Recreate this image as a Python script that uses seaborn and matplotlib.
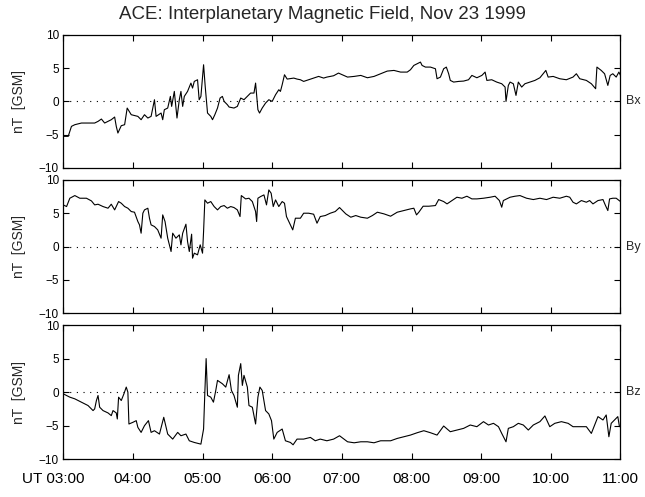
import matplotlib
matplotlib.use("Agg")
import matplotlib.pyplot as plt
from matplotlib.transforms import ScaledTranslation
import seaborn as sns
import pandas as pd

# --- data (minutes after 03:00 UT, nT) ---
bx_min = [0, 4.3, 7.1, 10, 15.7, 27.1, 30, 32.9, 35.7, 41.4, 44.3, 45.7, 47.1, 50, 52.9, 55.1,
          58.6, 64.3, 67.1, 70, 72.9, 75.7, 78.6, 80, 84.3, 85.7, 87.1, 90, 92.3, 93.4, 95.7, 98,
          100, 101.4, 102.9, 104.3, 107.1, 110, 111.4, 112.9, 115.7, 117.1, 118.6, 120.9, 122.3,
          124.3, 127.1, 128.6, 130.6, 132.9, 135.1, 137.1, 138.6, 141.4, 142.9, 147.1, 150, 152.9,
          155.7, 158.6, 161.4, 164.3, 165.7, 167.7, 169.1, 171.4, 174.3, 177.1, 180, 182.9, 185.7,
          187.1, 188.6, 190.6, 192.9, 198.6, 201.4, 204.3, 207.1, 211.4, 215.7, 220, 224.3, 227.1,
          232.9, 237.1,
          244.9, 250.6, 256.3, 262, 267.7, 273.4, 279.1, 284.9, 290.6, 296.3, 299.1, 302, 304.9,
          307.7, 309.1, 312, 316.3, 320.6, 322, 324.9, 327.7, 330, 332, 333.4, 336.3, 340.6, 344.9,
          349.1, 352, 356.3, 360.6, 363.4, 364.9, 369.1, 373.4, 377.7, 380.6, 381.4, 383.4, 384.9,
          387.7, 390, 392, 394.9, 397.7, 402, 406.3, 410.6, 413.4, 415.7, 417.7, 422, 427.7, 433.4,
          439.1, 442, 444.9, 450.6, 454.9, 458.6, 459.7, 463.4, 466.3, 469.1, 471.1, 473.4, 476.3,
          478.6, 480]
bx_val = [-5.25, -5.25, -3.75, -3.5, -3.25, -3.25, -3.0, -2.65, -3.25, -2.75, -2.35, -3.75, -4.75,
          -3.65, -3.5, -1.0, -2.0, -2.25, -2.75, -2.0, -2.5, -2.25, 0.25, -2.25, -1.75, -2.75, -1.25,
          -1.0, 0.75, -0.75, 1.5, -2.5, 0.25, 1.5, -0.75, 0.75, 1.5, 2.75, 2.0, 3.0, 3.25, 0.25, 0.75,
          5.5, 2.25, -1.75, -2.25, -2.75, -2.0, -1.0, 0.5, 0.75, 0.0, -0.5, -0.85, -1.0, -0.75, 0.5,
          0.25, 0.75, 1.25, 1.25, 2.75, -1.25, -1.75, -1.0, -0.25, 0.25, 0.0, 1.0, 1.75, 1.5, 2.5,
          4.0, 3.35, 3.5, 3.35, 3.25, 3.0, 3.25, 3.5, 3.75, 3.5, 3.65, 3.85, 4.25,
          3.65, 3.75, 3.9, 3.55, 3.75, 4.15, 4.55, 4.65, 4.4, 4.4, 4.75, 5.4, 5.65, 5.9, 5.4, 5.15,
          5.15, 4.9, 3.4, 3.65, 4.9, 5.15, 4.15, 3.15, 2.9, 3.0, 3.05, 3.25, 3.9, 3.55, 3.9, 4.4,
          3.15, 3.25, 2.9, 2.65, 2.15, 0.0, 2.4, 2.9, 2.65, 0.9, 2.9, 2.15, 2.65, 2.9, 3.15, 3.55,
          4.15, 4.65, 3.65, 3.75, 3.4, 3.25, 3.65, 4.15, 3.4, 3.15, 2.65, 1.9, 5.15, 4.65, 4.15,
          2.4, 3.9, 4.15, 3.65, 4.4, 3.9]

by_min = [0, 2.9, 5.7, 10, 14.3, 20, 24.3, 27.1, 30, 34.3, 38.6, 41.4, 44.3, 47.7, 50, 52.9, 55.7,
          58.6, 61.4, 64.3, 65.7, 67.1, 68.6, 70, 72.9, 74.3, 75.7, 78.6, 81.4, 84.3, 85.7, 87.7, 90,
          92.9, 94.3, 97.1, 100, 101.4, 102.9, 105.7, 107.1, 108.6, 110.6, 111.4, 112.9, 115.7, 118,
          120, 120.9, 122, 124.3, 127.1, 130, 132.9, 135.7, 138.6, 141.4, 144.3, 147.1, 150, 152.3,
          153.4, 157.1, 160, 162.9, 165.7, 166.6, 167.7, 170, 172.9, 175.1, 177.1, 179.1, 180.9,
          182.9, 185.7, 188.6, 190.6, 192.3, 195.7, 197.7, 200, 204.3, 207.1, 211.4, 215.7, 218.6,
          221.4, 225.7, 230, 234.3, 238,
          243.4, 247.7, 252, 256.3, 262, 266.3, 270.6, 276.3, 282, 287.7, 293.4, 299.1, 302, 304.3,
          306.3, 310, 314.9, 320.6, 323.4, 327.7, 330.6, 334.9, 339.1, 343.4, 347.7, 352, 356.3, 362,
          367.7, 372, 375.7, 377.7, 379.1, 382, 384.9, 389.1, 393.4, 399.1, 404.9, 410.6, 416.3, 422,
          427.7, 433.4, 436.3, 439.1, 442, 446.3, 450.6, 453.4, 456.3, 460.6, 464.9, 467.1, 469.1,
          470.6, 473.4, 476.3, 480]
by_val = [6.25, 6.0, 7.25, 7.65, 7.25, 7.25, 6.85, 6.25, 6.35, 6.0, 5.75, 6.35, 5.5, 6.75, 6.5, 6.0,
          5.75, 5.25, 5.15, 3.75, 3.25, 2.0, 5.0, 5.5, 5.75, 4.25, 3.25, 3.0, 2.5, 1.25, 4.75, 3.75,
          1.25, -0.75, 2.0, 1.25, 1.75, 0.25, 2.0, 3.35, 0.75, -0.75, 1.85, -1.75, -1.0, -1.25, 0.25,
          -1.0, 2.25, 7.0, 6.5, 6.75, 6.0, 5.5, 6.0, 6.15, 5.75, 6.0, 5.85, 5.5, 4.5, 7.65, 7.15, 7.25,
          6.75, 5.25, 3.75, 7.25, 7.5, 7.75, 6.25, 8.5, 8.0, 6.0, 7.0, 6.0, 6.75, 6.5, 4.5, 3.25, 2.5,
          4.25, 4.25, 5.0, 5.0, 4.85, 3.5, 4.5, 4.65, 5.0, 5.25, 5.85,
          4.9, 4.4, 4.65, 4.4, 4.25, 4.65, 5.15, 4.9, 4.55, 5.15, 5.4, 5.65, 5.75, 4.75, 5.15, 6.05,
          6.05, 6.15, 7.05, 6.75, 6.4, 6.9, 7.4, 7.25, 7.55, 7.15, 7.15, 7.25, 7.4, 7.55, 6.9, 5.9,
          6.9, 7.15, 7.4, 7.55, 7.65, 7.25, 7.05, 7.25, 7.05, 7.4, 7.25, 7.55, 7.4, 6.65, 6.4, 6.9,
          6.65, 6.9, 6.4, 6.9, 7.05, 6.15, 5.4, 7.15, 7.25, 7.25, 6.75]

bz_min = [0, 2.9, 5.7, 10, 15.7, 21.4, 25.7, 27.1, 28.6, 30, 31.4, 34.3, 38.6, 41.4, 42.9, 45.7,
          46.6, 47.7, 50, 52.3, 54.3, 55.7, 56.6, 60, 62.9, 64.3, 67.1, 70, 73.4, 75.7, 78.6, 82.9,
          86.6, 90, 94.3, 98.6, 101.4, 105.7, 108.6, 112.9, 118.6, 120.9, 122, 123.1, 124.3, 127.1,
          129.4, 131.4, 132.9, 137.1, 140, 142.9, 144.9, 147.1, 150, 150.9, 152.9, 154.3, 155.7,
          158.6, 160, 162.9, 165.7, 167.7, 169.4, 171.4, 174.3, 177.1, 179.4, 181.4, 184.3, 188.6,
          191.4, 195.7, 198, 201.4, 207.1, 212.9, 217.1, 221.4, 227.1, 232.9, 238,
          244.9, 250.6, 256.3, 262, 267.7, 273.4, 282, 287.7, 293.4, 299.1, 304.9, 310.6, 316.3, 322,
          327.7, 333.4, 339.1, 344.9, 350.6, 356.3, 362, 366.3, 370.6, 374.9, 377.7, 381.4, 383.4,
          387.7, 392, 396.3, 400.6, 404.9, 410.6, 414.9, 419.1, 423.4, 429.1, 434.9, 439.1, 444.9,
          450.6, 454.9, 457.7, 460.6, 464.9, 467.7, 470, 472, 474.9, 477.7, 479.1]
bz_val = [-0.25, -0.5, -0.75, -1.0, -1.5, -2.0, -2.75, -2.5, -1.25, -0.5, -2.25, -2.75, -3.1, -3.5,
          -2.75, -3.1, -4.0, -0.75, -1.25, -0.25, 0.75, 0.0, -4.75, -4.5, -4.25, -5.25, -6.0, -5.0,
          -4.25, -6.0, -5.75, -6.25, -3.75, -6.25, -7.0, -6.0, -6.5, -6.25, -7.25, -7.5, -7.75, -5.5,
          0.0, 5.0, -0.5, -0.75, -1.5, 0.25, 1.75, 1.25, 0.75, 2.6, 0.25, -0.5, -2.25, 2.5, 4.25, 1.0,
          2.5, 0.75, -2.0, -2.25, -4.75, -0.75, 0.75, 0.25, -2.75, -3.25, -4.25, -7.0, -6.0, -5.5,
          -7.25, -7.5, -7.85, -7.0, -7.0, -6.75, -7.25, -7.0, -7.25, -7.0, -6.5,
          -7.4, -7.55, -7.4, -7.4, -7.55, -7.25, -7.25, -6.9, -6.65, -6.4, -6.05, -5.75, -6.05, -6.4,
          -5.05, -5.9, -5.65, -5.4, -4.9, -5.15, -4.4, -4.9, -4.65, -5.15, -6.15, -7.4, -5.4, -5.15,
          -4.65, -4.9, -5.65, -4.9, -4.4, -3.55, -5.15, -4.65, -4.4, -4.65, -5.15, -5.15, -5.15, -6.15,
          -4.9, -3.65, -4.15, -3.4, -6.65, -4.65, -4.15, -3.65, -5.15]

components = ["Bx", "By", "Bz"]
hour_ticks = [0, 60, 120, 180, 240, 300, 360, 420, 480]
hour_labels = ["UT 03:00", "04:00", "05:00", "06:00", "07:00", "08:00", "09:00", "10:00", "11:00"]
y_ticks = [-10, -5, 0, 5, 10]

series = {
    "Bx": pd.DataFrame({"t": bx_min, "b": bx_val}),
    "By": pd.DataFrame({"t": by_min, "b": by_val}),
    "Bz": pd.DataFrame({"t": bz_min, "b": bz_val}),
}

sns.set_theme(style="ticks")
plt.rcParams["font.family"] = ["Liberation Sans", "DejaVu Sans"]

fig = plt.figure(figsize=(6.45, 4.97), dpi=100)
fig.patch.set_facecolor("white")

# panel boxes in figure fraction (left, bottom, width, height)
boxes = [(0.098, 0.662, 0.864, 0.268),
         (0.098, 0.370, 0.864, 0.268),
         (0.098, 0.076, 0.864, 0.270)]

axes = []
for name, box in zip(components, boxes):
    ax = fig.add_axes(box)
    sns.lineplot(data=series[name], x="t", y="b", ax=ax, color="black",
                 linewidth=0.8, estimator=None, sort=False)
    ax.axhline(0, color="black", linewidth=0.8, linestyle=(0, (1, 5)))
    ax.set_xlim(0, 480)
    ax.set_ylim(-10, 10)
    ax.set_xticks(hour_ticks)
    ax.set_yticks(y_ticks)
    ax.set_xlabel("")
    ax.set_ylabel("nT  [GSM]", fontsize=10, labelpad=9)
    ax.tick_params(direction="in", top=True, right=True, length=4, width=0.8,
                   labelsize=8.5, pad=3, colors="black")
    ax.set_xticklabels([])
    for sp in ax.spines.values():
        sp.set_visible(True)
        sp.set_color("black")
        sp.set_linewidth(0.9)
    ax.set_facecolor("white")
    ax.text(1.01, 0.5, name, transform=ax.transAxes, fontsize=9,
            ha="left", va="center")
    axes.append(ax)

bottom = axes[-1]
bottom.set_xticklabels(hour_labels, fontsize=11)
bottom.tick_params(axis="x", pad=9)
first = bottom.get_xticklabels()[0]
first.set_ha("right")
first.set_transform(first.get_transform() + ScaledTranslation(0.21, 0, fig.dpi_scale_trans))

fig.suptitle("ACE: Interplanetary Magnetic Field, Nov 23 1999", fontsize=13.5, y=0.988)

fig.savefig("out.png", dpi=100, facecolor="white")
